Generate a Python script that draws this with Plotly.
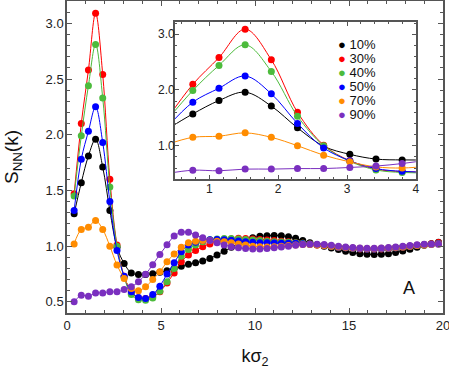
import plotly.graph_objects as go

# wavevector grid (k sigma_2) shared by every curve
K = [0.38, 0.76, 1.14, 1.52, 1.90, 2.28, 2.66, 3.04, 3.42, 3.80,
     4.18, 4.56, 4.94, 5.32, 5.70, 6.08, 6.46, 6.84, 7.22, 7.60,
     7.98, 8.36, 8.74, 9.12, 9.50, 9.88, 10.26, 10.64, 11.02, 11.40,
     11.78, 12.16, 12.54, 12.92, 13.30, 13.68, 14.06, 14.44, 14.82, 15.20,
     15.58, 15.96, 16.34, 16.72, 17.10, 17.48, 17.86, 18.24, 18.62, 19.00,
     19.38, 19.76]

S_10 = [1.29, 1.57, 1.81, 1.96, 1.71, 1.32, 0.99, 0.845, 0.76, 0.745,
        0.745, 0.752, 0.765, 0.78, 0.80, 0.82, 0.838, 0.85, 0.866, 0.89,
        0.92, 0.955, 0.99, 1.025, 1.05, 1.075, 1.088, 1.093, 1.096, 1.093,
        1.085, 1.07, 1.05, 1.03, 1.013, 0.998, 0.984, 0.97, 0.955, 0.942,
        0.932, 0.927, 0.925, 0.927, 0.932, 0.942, 0.956, 0.973, 0.99, 1.007,
        1.022, 1.036]
S_30 = [1.47, 2.10, 2.58, 3.09, 2.54, 1.60, 1.01, 0.73, 0.58, 0.535,
        0.53, 0.545, 0.59, 0.67, 0.76, 0.86, 0.92, 0.96, 0.995, 1.02,
        1.04, 1.055, 1.065, 1.07, 1.068, 1.064, 1.06, 1.055, 1.05, 1.045,
        1.04, 1.03, 1.025, 1.02, 1.01, 1.005, 1.0, 0.99, 0.985, 0.98,
        0.975, 0.972, 0.972, 0.975, 0.978, 0.985, 0.99, 1.0, 1.008, 1.015,
        1.022, 1.032]
S_40 = [1.45, 1.99, 2.44, 2.81, 2.33, 1.53, 1.00, 0.72, 0.565, 0.52,
        0.515, 0.535, 0.595, 0.68, 0.80, 0.91, 0.97, 1.01, 1.04, 1.058,
        1.065, 1.068, 1.068, 1.065, 1.06, 1.055, 1.05, 1.045, 1.04, 1.038,
        1.035, 1.03, 1.025, 1.02, 1.012, 1.005, 0.998, 0.99, 0.985, 0.98,
        0.976, 0.974, 0.974, 0.976, 0.98, 0.985, 0.992, 1.0, 1.006, 1.012,
        1.018, 1.024]
S_50 = [1.32, 1.78, 2.03, 2.25, 1.93, 1.40, 0.96, 0.73, 0.59, 0.54,
        0.53, 0.565, 0.64, 0.75, 0.85, 0.95, 1.01, 1.035, 1.05, 1.058,
        1.06, 1.058, 1.053, 1.047, 1.04, 1.035, 1.03, 1.03, 1.028, 1.027,
        1.026, 1.025, 1.022, 1.018, 1.012, 1.005, 0.998, 0.99, 0.985, 0.98,
        0.977, 0.975, 0.975, 0.977, 0.98, 0.985, 0.992, 1.0, 1.006, 1.012,
        1.018, 1.024]
S_70 = [1.02, 1.15, 1.17, 1.23, 1.15, 1.00, 0.83, 0.71, 0.62, 0.60,
        0.635, 0.70, 0.77, 0.86, 0.93, 0.99, 1.03, 1.045, 1.05, 1.05,
        1.045, 1.04, 1.03, 1.02, 1.01, 1.0, 0.995, 0.993, 0.995, 1.0,
        1.005, 1.01, 1.015, 1.015, 1.01, 1.005, 1.0, 0.993, 0.988, 0.983,
        0.98, 0.978, 0.978, 0.98, 0.983, 0.988, 0.993, 1.0, 1.005, 1.01,
        1.015, 1.02]
S_90 = [0.50, 0.56, 0.55, 0.58, 0.58, 0.59, 0.59, 0.61, 0.635, 0.68,
        0.747, 0.834, 0.926, 1.012, 1.09, 1.125, 1.125, 1.10, 1.075, 1.05,
        1.03, 1.01, 0.995, 0.985, 0.978, 0.975, 0.975, 0.978, 0.985, 0.993,
        1.0, 1.008, 1.015, 1.018, 1.018, 1.015, 1.008, 1.0, 0.993, 0.987,
        0.983, 0.98, 0.98, 0.983, 0.987, 0.993, 1.0, 1.006, 1.012, 1.016,
        1.018, 1.018]

LABELS = ["10%", "30%", "40%", "50%", "70%", "90%"]
SERIES = [S_10, S_30, S_40, S_50, S_70, S_90]
COLORS = ["#000000", "#ff0000", "#4cbb3c", "#0000ff", "#ff8c00", "#7a2fbf"]

FONT = "Liberation Sans, Arial, sans-serif"
AXIS_COLOR = "#555555"

fig = go.Figure()

for lab, ys, col in zip(LABELS, SERIES, COLORS):
    # main panel
    fig.add_trace(go.Scatter(
        x=K, y=ys, mode="lines+markers", line=dict(color=col, width=1, shape="spline"),
        marker=dict(color=col, size=7), name=lab, showlegend=False, xaxis="x", yaxis="y",
    ))
    # inset (same data, zoomed)
    fig.add_trace(go.Scatter(
        x=K, y=ys, mode="lines+markers", line=dict(color=col, width=1, shape="spline"),
        marker=dict(color=col, size=7), name=lab, showlegend=False, xaxis="x2", yaxis="y2",
    ))

# compact legend inside the inset (plotly's own legend rows are too tall here)
legend_notes = []
for i, (lab, col) in enumerate(zip(LABELS, COLORS)):
    legend_notes.append(dict(
        x=0.715, y=0.862 - i * 0.0449, xref="paper", yref="paper",
        xanchor="left", yanchor="middle", showarrow=False,
        text=f"<span style='color:{col}'>●</span>&nbsp;{lab}",
        font=dict(family=FONT, size=13, color="#111"),
    ))

axis_common = dict(
    showline=True, linecolor=AXIS_COLOR, linewidth=1.5, mirror="allticks",
    ticks="inside", tickcolor=AXIS_COLOR, showgrid=False, zeroline=False,
    automargin=False, ticklabeloverflow="allow",
    tickfont=dict(family=FONT, size=13, color="#222"),
)
inset_font = dict(family=FONT, size=12, color="#222")

fig.update_layout(
    width=449, height=371,
    margin=dict(l=67, r=6, t=1, b=58),
    paper_bgcolor="white", plot_bgcolor="white",
    font=dict(family=FONT, color="#111"),
    showlegend=False,
    xaxis=dict(
        range=[0, 20], dtick=5, ticklen=5, ticklabelstandoff=0,
        minor=dict(dtick=1, ticks="inside", ticklen=3, tickcolor=AXIS_COLOR),
        title=dict(text="kσ<sub>2</sub>", font=dict(family=FONT, size=18), standoff=17),
        **axis_common,
    ),
    yaxis=dict(
        range=[0.4, 3.2], dtick=0.5, tickformat=".1f", ticklen=5, ticklabelstandoff=-1,
        minor=dict(dtick=0.1, ticks="inside", ticklen=3, tickcolor=AXIS_COLOR),
        title=dict(text="S<sub>NN</sub>(k)", font=dict(family=FONT, size=19), standoff=22),
        **axis_common,
    ),
    xaxis2=dict(
        domain=[0.287, 0.928], anchor="y2", range=[0.5, 4], dtick=1, ticklen=4,
        ticklabelstandoff=-2,
        minor=dict(dtick=0.2, ticks="inside", ticklen=2.5, tickcolor=AXIS_COLOR),
        **{**axis_common, "tickfont": inset_font},
    ),
    yaxis2=dict(
        domain=[0.429, 0.933], anchor="x2", range=[0.4, 3.22], dtick=1, tickformat=".1f",
        ticklen=4, ticklabelstandoff=-4,
        minor=dict(dtick=0.2, ticks="inside", ticklen=2.5, tickcolor=AXIS_COLOR),
        **{**axis_common, "tickfont": inset_font},
    ),
    annotations=legend_notes + [dict(
        x=18.2, y=0.62, xref="x", yref="y", text="A", showarrow=False,
        font=dict(family=FONT, size=18, color="#111"),
    )],
)

# the default page body has an 8px margin; drop it so the figure sits at the corner
fig.write_html(
    "out.html",
    config={"displayModeBar": False},
    post_script="document.body.style.margin='0';document.body.style.overflow='hidden';",
)
